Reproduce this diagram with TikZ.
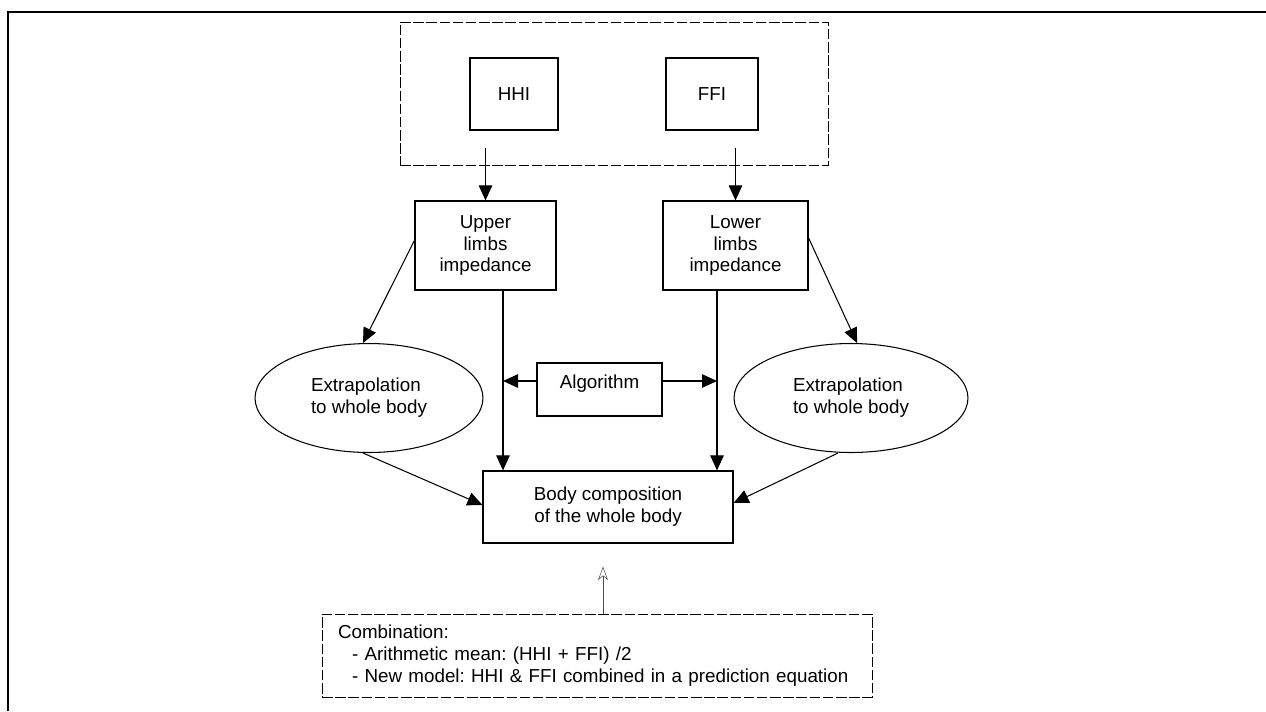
\documentclass[tikz,border=0pt]{standalone}
\usepackage{fontspec}
\setmainfont{Liberation Sans}
\usetikzlibrary{arrows.meta,shapes.geometric}
\frenchspacing
\begin{document}
\begin{tikzpicture}[x=0.02cm,y=-0.02cm]
	\tikzset{box/.style={draw, line width=0.7pt, rectangle, align=center, inner sep=0pt,
			font=\fontsize{10.7}{12.4}\selectfont},
		oval/.style={draw, line width=0.6pt, ellipse, inner sep=0pt, align=left,
			font=\fontsize{10.7}{12.4}\selectfont},
		grp/.style={draw, line width=0.5pt, dash pattern=on 6pt off 1.5pt, rectangle, inner sep=0pt},
		arr/.style={line width=0.6pt, -{Triangle[length=0.3cm, width=0.27cm]}},
		thinarr/.style={line width=0.3pt, black!70, -{Stealth[open, length=0.27cm, width=0.2cm, inset=0.08cm]}}}
	\useasboundingbox (0,0) rectangle (1266,711);
	% frame
	\draw[line width=1pt] (8,711) -- (8,12) -- (1266,12);
	% top group
	\node[grp, minimum width=8.56cm, minimum height=2.86cm] (group) at (614,93.5) {};
	\node[box, minimum width=1.76cm, minimum height=1.44cm] (hhi) at (514,94) {HHI};
	\node[box, minimum width=1.84cm, minimum height=1.44cm] (ffi) at (712,94) {FFI};
	% impedance boxes
	\node[box, minimum width=2.82cm, minimum height=1.78cm] (upper) at (485.5,245.5) {Upper\\limbs\\impedance};
	\node[box, minimum width=2.9cm, minimum height=1.78cm] (lower) at (735.5,245.5) {Lower\\limbs\\impedance};
	\node[box, minimum width=2.5cm, minimum height=1.06cm, text height=0.27cm, text depth=0.33cm] (algo) at (599.5,389.5) {Algorithm};
	\node[oval, minimum width=4.56cm, minimum height=2.18cm] (lext) at (369,398) {Extrapolation\\to whole body};
	\node[oval, minimum width=4.68cm, minimum height=2.18cm] (rext) at (851,398) {Extrapolation\\to whole body};
	\node[box, minimum width=5cm, minimum height=1.44cm] (body) at (608,507) {Body composition\\of the whole body};
	\node[grp, text width=10.36cm, inner xsep=0.32cm, minimum height=1.66cm, align=left,
		font=\fontsize{10.7}{12.4}\selectfont] (comb) at (597,655.5)
		{Combination:\\\hspace*{0.28cm}- Arithmetic mean: (HHI + FFI) /2\\\hspace*{0.28cm}- New model: HHI \& FFI combined in a prediction equation};
	% connectors
	\coordinate (hhiout) at ([yshift=-0.34cm]hhi.south);
	\coordinate (ffiout) at ([yshift=-0.34cm]ffi.south);
	\draw[arr] (hhiout -| upper.north) -- (upper.north);
	\draw[arr] (ffiout -| lower.north) -- (lower.north);
	\coordinate (lv) at ([xshift=0.35cm]upper.south);
	\coordinate (rv) at ([xshift=-0.37cm]lower.south);
	\draw[arr] (lv) -- (lv |- body.north);
	\draw[arr] (rv) -- (rv |- body.north);
	\coordinate (al) at ([yshift=0.17cm]algo.west);
	\coordinate (ar) at ([yshift=0.17cm]algo.east);
	\draw[arr] (al) -- (al -| lv);
	\draw[arr] (ar) -- (ar -| rv);
	\draw[arr] ([yshift=0.1cm]upper.west) -- ([xshift=-0.12cm]lext.north);
	\draw[arr] ([yshift=0.15cm]lower.east) -- ([xshift=0.12cm]rext.north);
	\draw[arr] ([xshift=-0.12cm]lext.south) -- ([yshift=0.04cm]body.west);
	\draw[arr] ([xshift=-0.26cm]rext.south) -- ([yshift=0.08cm]body.east);
	\coordinate (combtip) at ([xshift=0.12cm,yshift=0.94cm]comb.north);
	\draw[thinarr] ([xshift=0.12cm]comb.north) -- (combtip);
\end{tikzpicture}
\end{document}
